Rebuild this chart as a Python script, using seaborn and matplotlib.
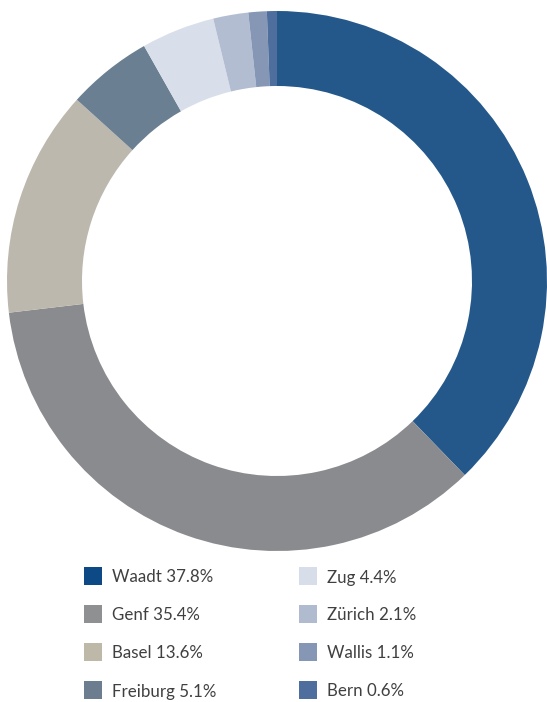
import matplotlib
matplotlib.use("Agg")
import matplotlib.pyplot as plt
from matplotlib.patches import Rectangle
import seaborn as sns

cantons = ["Waadt", "Genf", "Basel", "Freiburg", "Zug", "Zürich", "Wallis", "Bern"]
shares = [37.8, 35.4, 13.6, 5.1, 4.4, 2.1, 1.1, 0.6]
wedge_colors = ["#24588b", "#8a8b8f", "#bdb8ad", "#6a7f91",
                "#d9dfea", "#b2bdd1", "#8597b5", "#4e6f9e"]
key_colors = ["#0d4a85", "#8f9091", "#bdb8a8", "#6b7d8f",
              "#d8dee9", "#b0bbd0", "#8597b5", "#4e6f9e"]

sns.set_theme(style="white")
plt.rcParams["font.family"] = ["Lato", "DejaVu Sans"]

W, H = 547, 702
fig = plt.figure(figsize=(W / 100, H / 100), dpi=100)
fig.patch.set_facecolor("white")

# donut: centre (277, 281) px, outer radius 270 px
cx, cy, r = 277, 281, 270
ax = fig.add_axes([(cx - r) / W, (H - cy - r) / H, 2 * r / W, 2 * r / H])
ax.pie(shares, colors=wedge_colors, startangle=90, counterclock=False,
       radius=1.0, wedgeprops=dict(width=75 / 270, linewidth=0))
ax.set_xlim(-1, 1)
ax.set_ylim(-1, 1)
ax.set_aspect("equal")
ax.axis("off")

# two-column key below the ring
col_x = [84, 299]
row_y0, row_step = 567, 38
sq = 18
for i, (name, val, col) in enumerate(zip(cantons, shares, key_colors)):
    c, rw = divmod(i, 4)
    x = col_x[c]
    y = row_y0 + rw * row_step
    fig.patches.append(Rectangle((x / W, 1 - (y + sq) / H), sq / W, sq / H,
                                 transform=fig.transFigure, facecolor=col,
                                 edgecolor="none"))
    fig.text((x + 28) / W, 1 - (y + sq / 2 + 1.5) / H, f"{name} {val}%",
             ha="left", va="center", fontsize=12.2, color="#404040")

fig.savefig("out.png", dpi=100, facecolor="white")
